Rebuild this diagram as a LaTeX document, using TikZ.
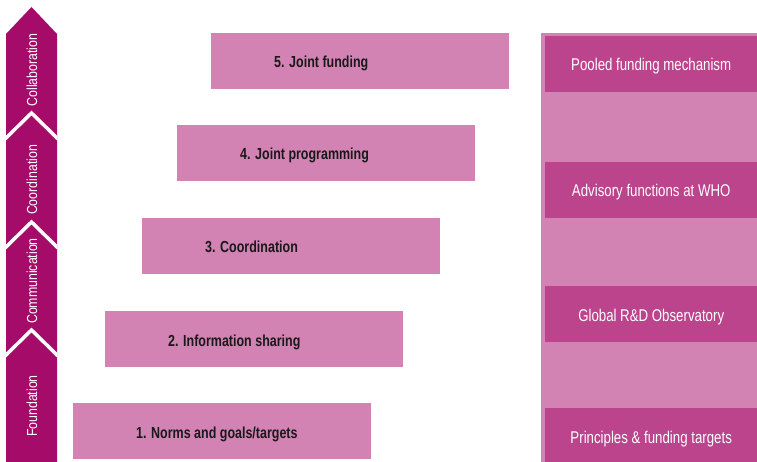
\documentclass[tikz,border=0pt]{standalone}
\usepackage{fontspec}
\newfontfamily\cf{Liberation Sans}[FakeStretch=0.85]
\newfontfamily\cn{Liberation Sans}[FakeStretch=0.78]
\definecolor{lightpink}{HTML}{D283B4}
\definecolor{midpink}{HTML}{BB448D}
\definecolor{darkplum}{HTML}{A50C69}
\tikzset{
  stepbox/.style={fill=lightpink, draw=none, minimum width=298pt, minimum height=56pt, inner sep=0pt, anchor=north west},
  steptext/.style={font=\cn\bfseries\fontsize{16}{18}\selectfont, text=black!90, anchor=base west, inner sep=0pt},
  sidebox/.style={fill=midpink, draw=none, minimum width=212pt, inner sep=0pt, anchor=north west},
  sidetext/.style={font=\cn\fontsize{17}{18}\selectfont, text=white, anchor=base, inner sep=0pt},
  phasetext/.style={font=\cf\fontsize{14.5}{17}\selectfont, text=white, rotate=90, inner sep=0pt},
  gap/.style={draw=white, line width=3.5pt, miter limit=10}
}
\begin{document}
\begin{tikzpicture}[x=1pt, y=-1pt]
\useasboundingbox (0,0) rectangle (757,462);
% left phase column
\fill[darkplum] (6,462) -- (6,34) -- (31.5,7) -- (57,34) -- (57,462) -- cycle;
\begin{scope}
\clip (6,462) -- (6,34) -- (31.5,7) -- (57,34) -- (57,462) -- cycle;
\draw[gap] (4,140) -- (31.5,113) -- (59,140);
\draw[gap] (4,249) -- (31.5,222) -- (59,249);
\draw[gap] (4,357) -- (31.5,330) -- (59,357);
\end{scope}
\node[phasetext] (collab) at (32,70) {Collaboration};
\node[phasetext] (coord) at (32,180) {Coordination};
\node[phasetext] (comm) at (32,281) {Communication};
\node[phasetext] (found) at (32,406) {Foundation};
% steps
\node[stepbox] (s5) at (211,33) {};
\node[stepbox] (s4) at (177,125) {};
\node[stepbox] (s3) at (142,218) {};
\node[stepbox] (s2) at (105,311) {};
\node[stepbox] (s1) at (73,403) {};
\node[steptext] (t5) at ([shift={(63,35)}]s5.north west) {5. Joint funding};
\node[steptext] (t4) at ([shift={(63,35)}]s4.north west) {4. Joint programming};
\node[steptext] (t3) at ([shift={(63,35)}]s3.north west) {3. Coordination};
\node[steptext] (t2) at ([shift={(63,35)}]s2.north west) {2. Information sharing};
\node[steptext] (t1) at ([shift={(63,35)}]s1.north west) {1. Norms and goals/targets};
% right column
\fill[lightpink] (541,33) rectangle (757,462);
\node[sidebox, minimum height=56pt] (r4) at (545,36) {};
\node[sidebox, minimum height=56pt] (r3) at (545,162) {};
\node[sidebox, minimum height=56pt] (r2) at (545,286) {};
\node[sidebox, minimum height=54pt] (r1) at (545,408) {};
\node[sidetext] (p4) at ([shift={(0,35)}]r4.north) {Pooled funding mechanism};
\node[sidetext] (p3) at ([shift={(0,35)}]r3.north) {Advisory functions at WHO};
\node[sidetext] (p2) at ([shift={(0,35)}]r2.north) {Global R\&D Observatory};
\node[sidetext] (p1) at ([shift={(0,35)}]r1.north) {Principles \& funding targets};
\end{tikzpicture}
\end{document}
